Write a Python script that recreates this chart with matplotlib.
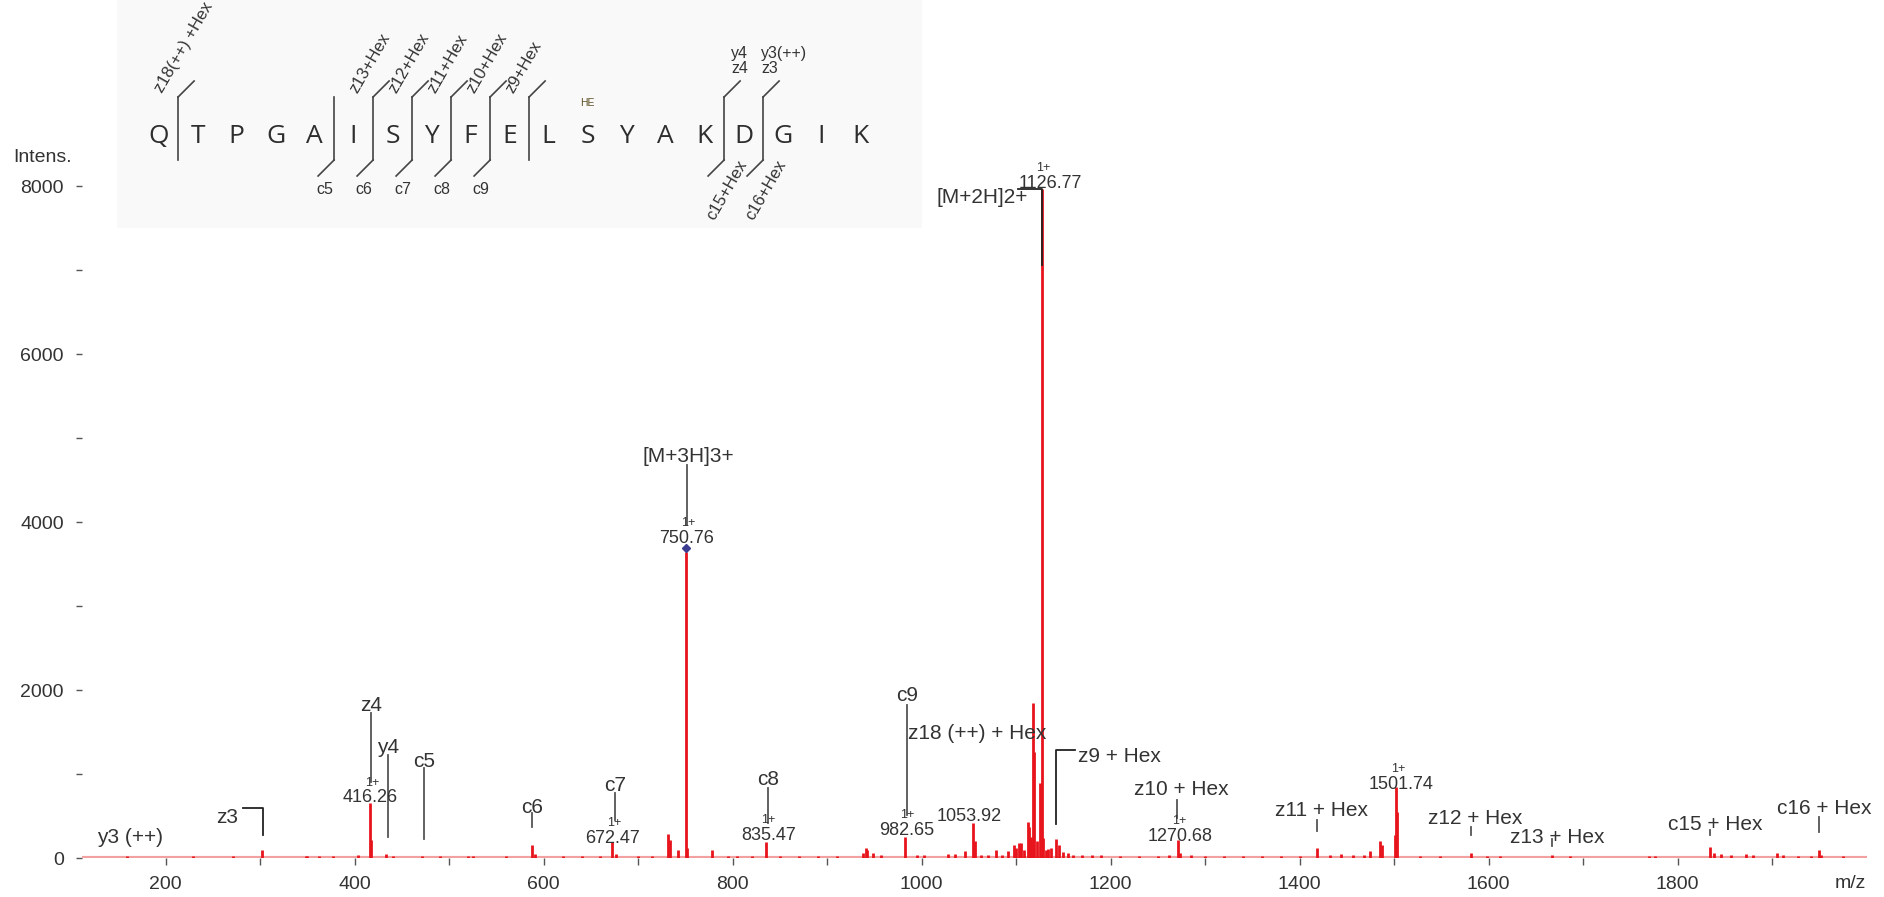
import matplotlib
matplotlib.use('Agg')
import matplotlib.pyplot as plt
import matplotlib.transforms as mtransforms
from matplotlib import font_manager

# ---- spectrum (m/z, intensity) ----
peak_mz = [158.6, 229, 271, 301.5, 348, 350, 362, 377, 403, 416.26, 417.3, 433.6,
           441, 471, 490, 520, 525, 560, 587.7, 591, 620, 640, 660, 672.47, 676,
           700, 715, 731.6, 734, 741.8, 750.76, 752, 778.5, 795, 805, 820, 835.47,
           850, 870, 890, 910, 938, 940.7, 942.5, 948.8, 957, 982.65, 995, 1002,
           1028, 1035, 1045.5, 1053.92, 1056, 1063, 1070, 1079, 1085, 1091, 1097.6,
           1100, 1103, 1105, 1108, 1112, 1114, 1116, 1117.4, 1119, 1122, 1125.5,
           1126.77, 1128.6, 1132, 1134, 1137, 1142, 1145, 1149, 1155, 1160, 1170,
           1180, 1190, 1210, 1230, 1250, 1262, 1270.68, 1273, 1285, 1300, 1320,
           1340, 1360, 1380, 1400, 1418.3, 1432, 1444, 1456, 1468, 1474, 1485,
           1487, 1500.7, 1501.74, 1502.5, 1527, 1548, 1581, 1598, 1612, 1667,
           1686, 1770, 1776, 1834.7, 1838, 1846, 1856, 1872, 1880, 1905, 1911,
           1927, 1941, 1949.4, 1952, 1975]
peak_int = [25, 25, 20, 90, 25, 20, 20, 20, 40, 660, 220, 45,
            20, 20, 25, 20, 20, 25, 160, 50, 20, 20, 20, 190, 50,
            20, 20, 286, 220, 90, 3640, 120, 100, 20, 20, 20, 190,
            20, 20, 20, 20, 60, 125, 90, 60, 40, 250, 40, 40,
            50, 50, 80, 417, 200, 40, 40, 100, 40, 80, 155,
            115, 180, 178, 100, 432, 373, 254, 1850, 1265, 200, 890,
            7960, 238, 100, 110, 120, 226, 150, 70, 60, 40, 40,
            30, 30, 25, 20, 25, 30, 214, 60, 30, 25, 25,
            20, 25, 20, 25, 120, 30, 50, 40, 40, 80, 200,
            150, 270, 840, 550, 20, 20, 55, 20, 20, 35,
            20, 20, 20, 135, 60, 50, 40, 50, 30, 60, 30,
            20, 20, 95, 30, 20]

# ---- labelled masses ----
mass_mz = [416.26, 672.47, 750.76, 835.47, 982.65, 1053.92, 1126.77, 1270.68, 1501.74]
mass_int = [660, 190, 3640, 190, 250, 417, 7960, 214, 840]
mass_charge = ['1+', '1+', '1+', '1+', '1+', '', '1+', '1+', '1+']

# ---- fragment annotations with a drop line ----
frag_labels = ['z4', 'y4', 'c5', 'c6', 'c7', '[M+3H]3+', 'c8', 'c9',
               'z10 + Hex', 'z11 + Hex', 'z12 + Hex', 'z13 + Hex', 'c15 + Hex', 'c16 + Hex']
frag_mz = [417, 435, 473.5, 588, 675.5, 751.3, 837, 984.7,
           1270, 1418.3, 1581, 1667, 1834.7, 1949.4]
frag_text_int = [1821, 1310, 1143, 607, 869, 4774, 929, 1940, 810, 571, 476, 250, 393, 595]
frag_line_top = [1726, 1226, 1071, 536, 774, 4679, 833, 1821, 690, 452, 369, 226, 333, 488]
frag_line_end = [905, 250, 226, 369, 452, 3964, 417, 512, 476, 321, 274, 143, 274, 310]

# bracket style annotations: label, text m/z, text intensity, bracket path
brk_labels = ['z3', 'z9 + Hex', '[M+2H]2+']
brk_text_mz = [264.9, 1165.4, 1064.3]
brk_text_int = [488, 1214, 7869]
brk_ha = ['center', 'left', 'center']
brk_path_mz = [[282.3, 302.6, 302.6], [1142.1, 1142.1, 1162.2], [1101.9, 1126.8, 1126.8]]
brk_path_int = [[595, 595, 274], [410, 1290, 1290], [7964, 7964, 7060]]

# free text labels
free_labels = ['y3 (++)', 'z18 (++) + Hex']
free_mz = [162.3, 985.5]
free_int = [250, 1488]
free_ha = ['center', 'left']

# ---- peptide sequence panel ----
sequence = list("QTPGAISYFELSYAKDGIK")
up_cut = [0, 5, 6, 7, 8, 9]
up_lab = ['z18(++) +Hex', 'z13+Hex', 'z12+Hex', 'z11+Hex', 'z10+Hex', 'z9+Hex']
dn_cut = [4, 5, 6, 7, 8]
dn_lab = ['c5', 'c6', 'c7', 'c8', 'c9']
both_cut = [14, 15]
both_up = ['y4\nz4', 'y3(++)\nz3']
both_dn = ['c15+Hex', 'c16+Hex']
hex_site = 11

W, H = 1884, 897
names = {f.name for f in font_manager.fontManager.ttflist}
narrow = 'Liberation Sans Narrow' if 'Liberation Sans Narrow' in names else 'Liberation Sans'
plt.rcParams['font.family'] = ['Liberation Sans', 'DejaVu Sans']
txt = '#333333'
red = '#e8141c'

fig = plt.figure(figsize=(W / 100, H / 100), dpi=100)
fig.patch.set_facecolor('white')

# main spectrum axes: x 82..1867 px, y 169..858 px
ax = fig.add_axes([82 / W, 1 - 858 / H, 1784.7 / W, 688.8 / H])
ax.patch.set_alpha(0)
ax.set_xlim(111.4, 2000)
ax.set_ylim(0, 8200)
for s in ax.spines.values():
    s.set_visible(False)

ax.axhline(0, color='#f3a0a0', lw=3, zorder=2)
ax.vlines(peak_mz, 0, peak_int, colors=red, lw=2.0, zorder=3)

ax.set_xticks(range(200, 1801, 200))
ax.set_xticks(range(300, 2000, 200), minor=True)
ax.set_yticks(range(0, 8001, 2000))
ax.set_yticks(range(1000, 8000, 2000), minor=True)
ax.tick_params(axis='x', which='both', length=5, width=1, color='#555555',
               pad=8, labelsize=14, labelcolor=txt)
ax.tick_params(axis='y', which='both', length=4, width=1, color='#555555',
               pad=9, labelsize=14, labelcolor=txt)

# precursor marker
mk = mtransforms.offset_copy(ax.transData, fig=fig, x=0, y=4, units='dots')
ax.plot(mass_mz[2], mass_int[2], 'D', ms=4.5, color='#3b3b8f', transform=mk, zorder=6)

# mass labels (offsets in pixels)
lab_dx = [0, 0, 0, 2, 1, -3, 9, 3, 5]
lab_dy = [5, 4, 14, 7, 7, 6, 6, 4, 3]
for m, i, c, dx, dy in zip(mass_mz, mass_int, mass_charge, lab_dx, lab_dy):
    ax.annotate(f'{m:.2f}', (m, i), xytext=(dx * 0.72, dy * 0.72), textcoords='offset points',
                ha='center', va='center', fontsize=13, color=txt, zorder=7)
    if c:
        ax.annotate(c, (m, i), xytext=(2 * 0.72, (dy + 15) * 0.72), textcoords='offset points',
                    ha='center', va='center', fontsize=9, color=txt, zorder=7)

# fragment labels with drop lines
frag_dx = [0, 0, 0, 0, 0, 2, 0, 0, 4, 4, 4, 5, 5, 5]
for lab, m, ti, lt, le, dx in zip(frag_labels, frag_mz, frag_text_int, frag_line_top,
                                  frag_line_end, frag_dx):
    ax.plot([m, m], [lt, le], color='#555555', lw=1.3, zorder=4)
    ax.annotate(lab, (m, ti), xytext=(dx * 0.72, 0), textcoords='offset points',
                ha='center', va='center', fontsize=15, color=txt, zorder=7)

for lab, tm, ti, ha, pm, pi in zip(brk_labels, brk_text_mz, brk_text_int, brk_ha,
                                   brk_path_mz, brk_path_int):
    ax.plot(pm, pi, color='#222222', lw=1.3, zorder=4)
    ax.text(tm, ti, lab, ha=ha, va='center', fontsize=15, color=txt, zorder=7)

for lab, m, i, ha in zip(free_labels, free_mz, free_int, free_ha):
    ax.text(m, i, lab, ha=ha, va='center', fontsize=15, color=txt, zorder=7)

fig.text(1850.6 / W, 1 - 883 / H, 'm/z', ha='center', va='center', fontsize=14, color=txt)
fig.text(43 / W, 1 - 157 / H, 'Intens.', ha='center', va='center', fontsize=14, color=txt)

# ---- sequence panel (pixel coordinates, y down) ----
sa = fig.add_axes([117 / W, 1 - 228 / H, 805 / W, 228 / H])
sa.set_facecolor('#f9f9f9')
sa.set_xlim(117, 922)
sa.set_ylim(228, 0)
sa.set_xticks([])
sa.set_yticks([])
for s in sa.spines.values():
    s.set_visible(False)

x0, step = 158.6, 39.0
for k, aa in enumerate(sequence):
    sa.text(x0 + step * k, 136, aa, ha='center', va='center', fontsize=19,
            family='Open Sans', color='#2e2e2e')
sa.text(x0 + step * hex_site, 103, 'HE', ha='center', va='center', fontsize=7.5,
        color='#5e5026')

lc = '#444444'
cuts = sorted(set(up_cut + dn_cut + both_cut))
for c in cuts:
    sx = x0 + step * (c + 0.5)
    sa.plot([sx, sx], [97, 160], color=lc, lw=1.2)
    if c in up_cut or c in both_cut:
        sa.plot([sx, sx + 16], [97, 81], color=lc, lw=1.2)
    if c in dn_cut or c in both_cut:
        sa.plot([sx, sx - 16], [160, 176], color=lc, lw=1.2)

for c, lab in zip(up_cut, up_lab):
    sx = x0 + step * (c + 0.5)
    sa.text(sx - 13, 95, lab, rotation=60, rotation_mode='anchor', ha='left', va='bottom',
            fontsize=12, family=narrow, color=txt)
for c, lab in zip(dn_cut, dn_lab):
    sx = x0 + step * (c + 0.5)
    sa.text(sx - 9, 189, lab, ha='center', va='center', fontsize=11.5, family=narrow, color=txt)
for c, lu, ld, dx in zip(both_cut, both_up, both_dn, [7, -2]):
    sx = x0 + step * (c + 0.5)
    sa.text(sx + dx, 61, lu, ha='left', va='center', fontsize=11.5, family=narrow,
            color=txt, linespacing=0.95)
    sa.text(sx + 3, 190, ld, rotation=60, rotation_mode='anchor', ha='center', va='center',
            fontsize=12, family=narrow, color=txt)

fig.savefig('out.png', dpi=100)
